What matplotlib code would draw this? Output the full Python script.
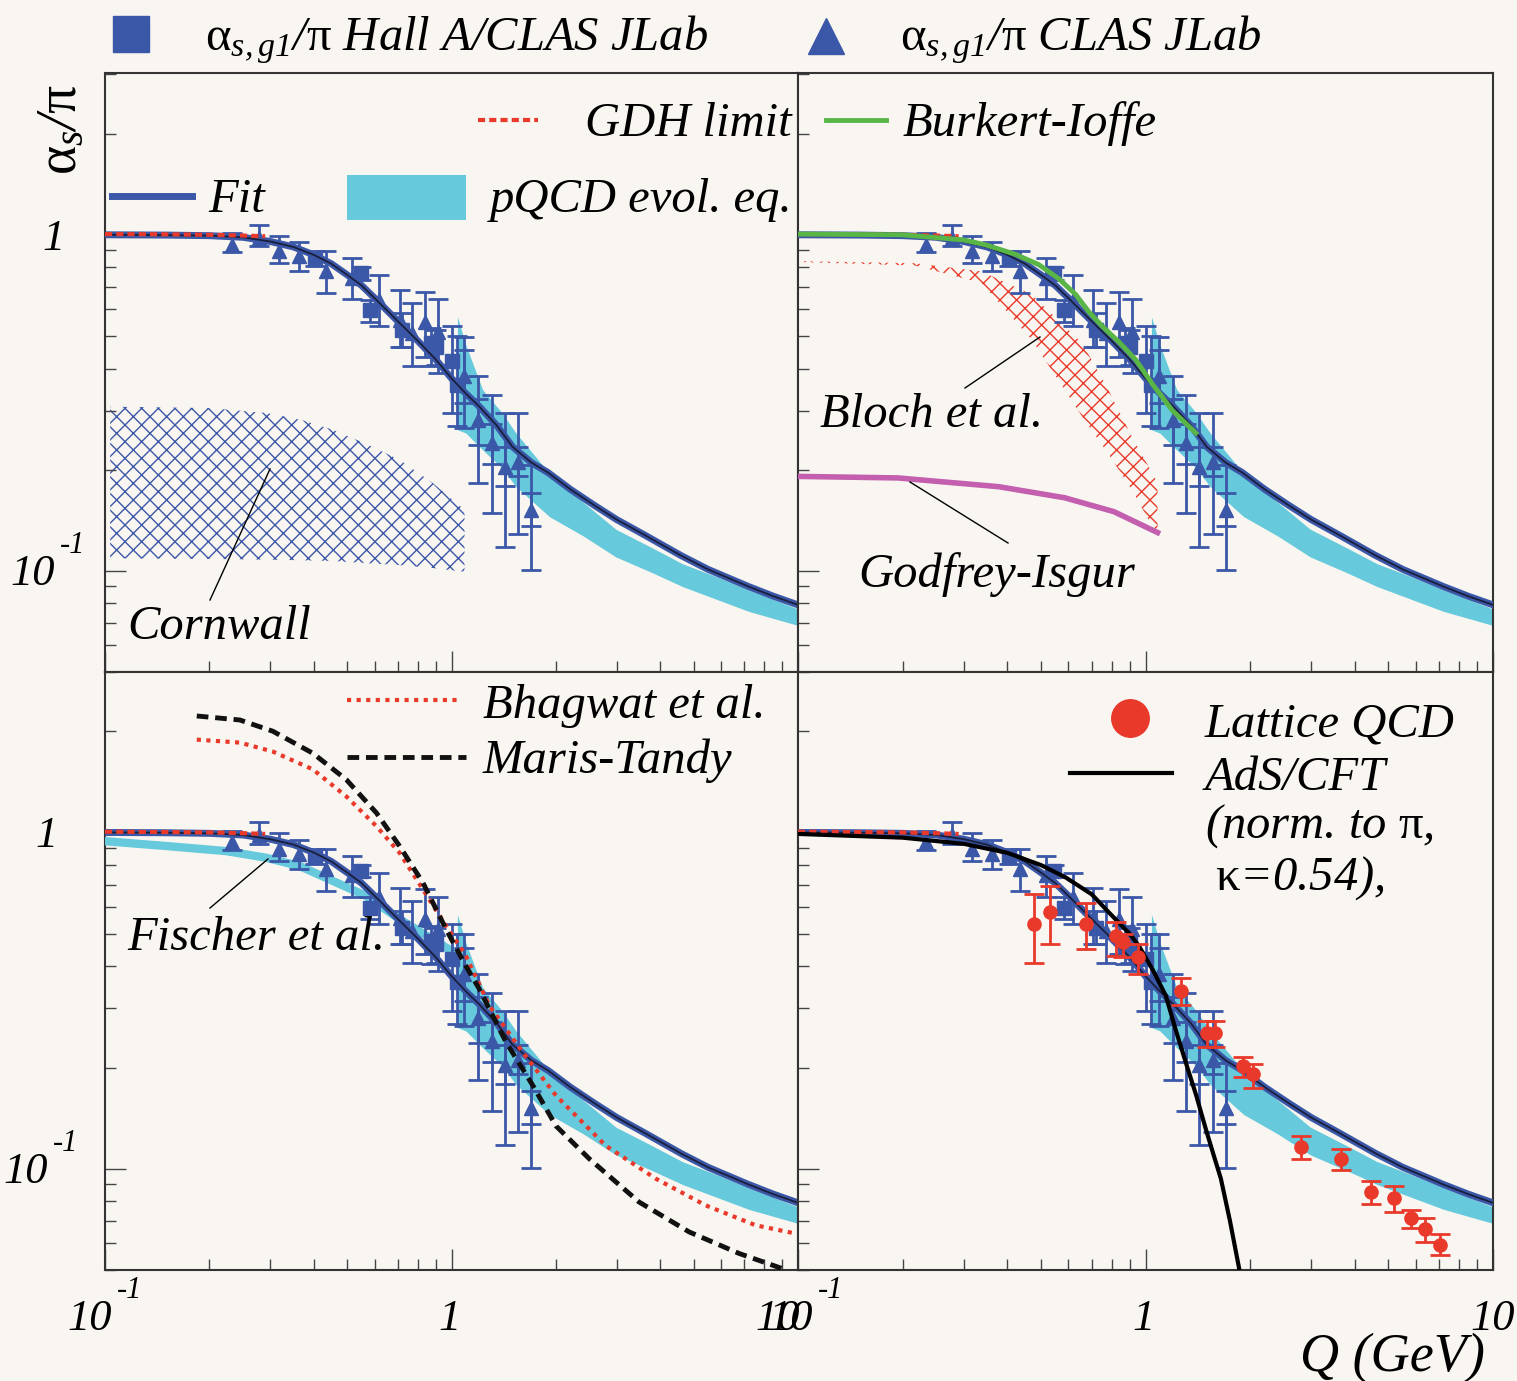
import matplotlib
matplotlib.use("Agg")
import matplotlib.pyplot as plt
import numpy as np
from matplotlib.ticker import FixedLocator, LogLocator, NullFormatter

plt.rcParams['font.family'] = ['Liberation Serif', 'DejaVu Serif']
plt.rcParams['mathtext.fontset'] = 'custom'
plt.rcParams['mathtext.rm'] = 'Liberation Serif:italic'
plt.rcParams['mathtext.it'] = 'Liberation Serif:italic'
plt.rcParams['mathtext.sf'] = 'Liberation Serif'
plt.rcParams['hatch.linewidth'] = 1.0

BG = '#f9f6f1'
BLUE = '#3b57a7'
NAVY = '#1a1f3c'
CYAN = '#66c9dc'
RED = '#e9392b'
GREEN = '#5ab547'
MAGENTA = '#c35fae'
W, H = 1517, 1381

# --- data ---
# CLAS JLab (triangles)
clas_q = [0.233, 0.278, 0.317, 0.362, 0.435, 0.516, 0.617, 0.708, 0.768, 0.841,
          0.913, 1.09, 1.196, 1.306, 1.427, 1.56, 1.70]
clas_val = [0.934, 0.98, 0.892, 0.862, 0.778, 0.745, 0.641, 0.558, 0.51, 0.552,
            0.515, 0.379, 0.281, 0.24, 0.204, 0.211, 0.152]
clas_hi = [1.012, 1.071, 0.993, 0.949, 0.892, 0.852, 0.760, 0.683, 0.626, 0.678,
           0.643, 0.498, 0.379, 0.334, 0.295, 0.295, 0.207]
clas_lo = [0.886, 0.923, 0.824, 0.778, 0.670, 0.643, 0.536, 0.465, 0.408, 0.434,
           0.387, 0.266, 0.183, 0.149, 0.118, 0.129, 0.1007]
# inner (stat.) bars of the last six CLAS points
clas_stat_hi = [0.453, 0.324, 0.274, 0.234, 0.234, 0.170]
clas_stat_lo = [0.315, 0.237, 0.208, 0.179, 0.191, 0.136]

# Hall A / CLAS (squares)
halla_q = [0.405, 0.547, 0.583, 0.72, 0.874, 0.90, 1.0, 1.035]
halla_val = [0.847, 0.769, 0.598, 0.521, 0.476, 0.465, 0.42, 0.358]
halla_hi = [0.892, 0.80, 0.641, 0.585, 0.527, 0.52, 0.536, 0.50]
halla_lo = [0.808, 0.735, 0.552, 0.465, 0.406, 0.41, 0.295, 0.27]

# Fit
fit_q = [0.1, 0.15, 0.2, 0.25, 0.3, 0.35, 0.4, 0.45, 0.5, 0.55, 0.6, 0.65, 0.7,
         0.8, 0.9, 1.0, 1.1, 1.2, 1.35, 1.5, 1.7, 1.9, 2.2, 2.6, 3.0, 3.6, 4.6,
         5.5, 7.2, 8.5, 10.0]
fit_val = [1.0, 0.998, 0.994, 0.983, 0.955, 0.92, 0.872, 0.82, 0.76, 0.707, 0.648,
           0.597, 0.553, 0.483, 0.426, 0.374, 0.337, 0.309, 0.271, 0.234, 0.21,
           0.196, 0.175, 0.156, 0.142, 0.128, 0.111, 0.101, 0.0898, 0.084, 0.0792]

# GDH limit
gdh_q = [0.1, 0.15, 0.2, 0.25, 0.29]
gdh_val = [1.005, 1.003, 1.0, 0.995, 0.99]

# pQCD evolution band
band_q = [1.04, 1.1, 1.23, 1.4, 1.535, 1.916, 2.4, 2.98, 3.8, 4.64, 6.0, 7.22, 10.0]
band_hi = [0.571, 0.47, 0.346, 0.295, 0.257, 0.195, 0.16, 0.133, 0.117, 0.105,
           0.0949, 0.0877, 0.077]
band_lo = [0.263, 0.257, 0.229, 0.202, 0.178, 0.145, 0.127, 0.110, 0.0987, 0.0898,
           0.0813, 0.0757, 0.0688]

# Cornwall band
corn_q = [0.1035, 0.2, 0.292, 0.37, 0.454, 0.56, 0.708, 0.88, 1.09]
corn_hi = [0.308, 0.305, 0.295, 0.281, 0.263, 0.24, 0.214, 0.183, 0.152]
corn_lo = [0.109, 0.1085, 0.108, 0.1075, 0.107, 0.1055, 0.104, 0.102, 0.0994]

# Burkert-Ioffe
bi_q = [0.1, 0.2, 0.3, 0.346, 0.422, 0.493, 0.563, 0.629, 0.687, 0.75, 0.838,
        0.937, 1.046, 1.195, 1.396]
bi_val = [1.005, 1.0, 0.965, 0.934, 0.875, 0.815, 0.74, 0.665, 0.59, 0.535,
          0.48, 0.425, 0.36, 0.30, 0.257]

# Bloch et al. band
bloch_q = [0.1, 0.217, 0.338, 0.471, 0.657, 0.777, 0.915, 1.083]
bloch_hi = [0.835, 0.823, 0.778, 0.663, 0.476, 0.35, 0.25, 0.183]
bloch_lo = [0.83, 0.81, 0.718, 0.487, 0.288, 0.225, 0.174, 0.127]

# Godfrey-Isgur
gi_q = [0.1, 0.194, 0.378, 0.585, 0.811, 1.083]
gi_val = [0.191, 0.189, 0.178, 0.165, 0.150, 0.13]

# Fischer et al.
fis_q = [0.1, 0.151, 0.224, 0.292, 0.365, 0.455, 0.568, 0.708, 0.883, 1.054, 1.1]
fis_val = [0.942, 0.911, 0.88, 0.841, 0.794, 0.717, 0.647, 0.552, 0.481, 0.43, 0.42]

# Maris-Tandy
mt_q = [0.184, 0.245, 0.305, 0.398, 0.497, 0.607, 0.708, 0.827, 0.965, 1.10,
        1.204, 1.287, 1.437, 1.716, 2.003, 2.5, 3.48, 4.85, 6.76, 9.0]
mt_val = [2.22, 2.16, 2.0, 1.72, 1.436, 1.144, 0.911, 0.709, 0.515, 0.401, 0.342,
          0.298, 0.238, 0.177, 0.134, 0.107, 0.0796, 0.0649, 0.056, 0.0505]

# Bhagwat et al.
bh_q = [0.184, 0.245, 0.305, 0.398, 0.497, 0.607, 0.708, 0.827, 0.965, 1.10,
        1.287, 1.605, 2.003, 2.79, 3.89, 5.42, 7.55, 9.9]
bh_val = [1.888, 1.85, 1.74, 1.54, 1.28, 1.044, 0.87, 0.677, 0.527, 0.43, 0.305,
          0.222, 0.165, 0.117, 0.0934, 0.0778, 0.0679, 0.0641]

# AdS/CFT
ads_q = [0.1, 0.2, 0.3, 0.4, 0.5, 0.589, 0.7, 0.785, 0.9, 0.957, 1.05, 1.144,
         1.22, 1.306, 1.4, 1.492, 1.57, 1.648, 1.75, 1.86]
ads_val = [0.99, 0.965, 0.925, 0.87, 0.80, 0.735, 0.655, 0.578, 0.50, 0.46, 0.39,
           0.327, 0.26, 0.207, 0.165, 0.131, 0.11, 0.0934, 0.07, 0.0505]

# Lattice QCD
lat_q = [0.479, 0.532, 0.675, 0.824, 0.861, 0.953, 1.264, 1.507, 1.59, 1.904,
         2.034, 2.80, 3.66, 4.47, 5.18, 5.82, 6.37, 7.06]
lat_val = [0.533, 0.582, 0.536, 0.492, 0.471, 0.425, 0.338, 0.254, 0.254, 0.2026,
           0.191, 0.116, 0.107, 0.0853, 0.0818, 0.0714, 0.066, 0.0595]
lat_hi = [0.655, 0.693, 0.618, 0.540, 0.498, 0.465, 0.369, 0.275, 0.275, 0.215,
          0.2045, 0.125, 0.1145, 0.0917, 0.0889, 0.0756, 0.0714, 0.0638]
lat_lo = [0.408, 0.465, 0.450, 0.430, 0.426, 0.379, 0.307, 0.230, 0.230, 0.187,
          0.174, 0.107, 0.0989, 0.0785, 0.0745, 0.0667, 0.0607, 0.0555]

FS = 35
TFS = 32
GDH_LS = (0, (1.7, 1.0))
MT_LS = (0, (2.4, 1.4))


def px_rect(x0, y0, x1, y1):
    return [x0 / W, 1 - y1 / H, (x1 - x0) / W, (y1 - y0) / H]


def yerr(val, lo, hi):
    val = np.asarray(val)
    return [val - np.asarray(lo), np.asarray(hi) - val]


def setup(ax, ytop):
    ax.set_xscale('log')
    ax.set_yscale('log')
    ax.set_xlim(0.1, 10)
    ax.set_ylim(0.05, ytop)
    ax.set_facecolor(BG)
    ax.xaxis.set_major_locator(FixedLocator([0.1, 1, 10]))
    ax.yaxis.set_major_locator(FixedLocator([0.1, 1]))
    ax.xaxis.set_minor_locator(LogLocator(base=10, subs=np.arange(2, 10)))
    ax.yaxis.set_minor_locator(LogLocator(base=10, subs=np.arange(2, 10)))
    ax.xaxis.set_minor_formatter(NullFormatter())
    ax.yaxis.set_minor_formatter(NullFormatter())
    ax.tick_params(which='both', direction='in', labelleft=False,
                   labelbottom=False, color='#444444', width=1)
    ax.tick_params(which='major', length=15)
    ax.tick_params(which='minor', length=8)
    for s in ax.spines.values():
        s.set_color('#333333')
        s.set_linewidth(1.5)


def draw_common(ax):
    ax.fill_between(band_q, band_lo, band_hi, color=CYAN, lw=0, zorder=2)
    ax.errorbar(clas_q, clas_val, yerr=yerr(clas_val, clas_lo, clas_hi),
                fmt='^', ms=10, color=BLUE, elinewidth=2, capsize=7,
                capthick=2, zorder=4)
    ax.errorbar(clas_q[-6:], clas_val[-6:],
                yerr=yerr(clas_val[-6:], clas_stat_lo, clas_stat_hi),
                fmt='none', ecolor=BLUE, elinewidth=2, capsize=7,
                capthick=2, zorder=4)
    ax.errorbar(halla_q, halla_val, yerr=yerr(halla_val, halla_lo, halla_hi),
                fmt='s', ms=9.5, color=BLUE, elinewidth=2, capsize=7,
                capthick=2, zorder=4)
    ax.plot(fit_q, fit_val, color=BLUE, lw=5, zorder=5)
    ax.plot(fit_q, fit_val, color=NAVY, lw=1.3, zorder=6)
    ax.plot(gdh_q, gdh_val, color=RED, lw=3, ls=GDH_LS, zorder=7)


def label(ax, xy, coords, s, dx, dy, ha):
    ax.annotate(s, xy=xy, xycoords=coords, xytext=(dx, dy),
                textcoords='offset pixels', ha=ha, va='baseline',
                fontsize=TFS, style='italic')


def pow_label(ax, xy, coords, dx, dy):
    # "10" with a raised "-1", right edge of "10" at dx
    label(ax, xy, coords, '10', dx, dy, 'right')
    ax.annotate('-1', xy=xy, xycoords=coords, xytext=(dx + 5, dy + 32),
                textcoords='offset pixels', ha='left', va='baseline',
                fontsize=22, style='italic')


def ylabels(ax, d1, d10):
    yc = ('axes fraction', 'data')
    label(ax, (0, 1), yc, '1', d1, -15, 'right')
    pow_label(ax, (0, 0.1), yc, d10, -14)


def xlabels(ax, d_lo, d_hi):
    xc = ('data', 'axes fraction')
    pow_label(ax, (0.1, 0), xc, d_lo, -60)
    label(ax, (1, 0), xc, '1', -2, -60, 'center')
    label(ax, (10, 0), xc, '10', d_hi, -60, 'center')


fig = plt.figure(figsize=(W / 100, H / 100), dpi=100, facecolor=BG)
tl = fig.add_axes(px_rect(105, 73, 798, 672))
tr = fig.add_axes(px_rect(798, 73, 1493, 672))
bl = fig.add_axes(px_rect(105, 672, 798, 1270))
br = fig.add_axes(px_rect(798, 672, 1493, 1270))
for ax, top in [(tl, 3.03), (tr, 3.03), (bl, 3.0), (br, 3.0)]:
    setup(ax, top)
    draw_common(ax)

# top left: Cornwall
tl.fill_between(corn_q, corn_lo, corn_hi, facecolor='none', edgecolor=BLUE,
                hatch='xx', lw=0, zorder=1)

# top right: Burkert-Ioffe, Bloch, Godfrey-Isgur
tr.fill_between(bloch_q, bloch_lo, bloch_hi, facecolor='none', edgecolor=RED,
                hatch='xx', lw=0, zorder=1)
tr.plot(gi_q, gi_val, color=MAGENTA, lw=4, zorder=3)
tr.plot(bi_q, bi_val, color=GREEN, lw=3.5, zorder=8)

# bottom left: Fischer, Bhagwat, Maris-Tandy
bl.plot(fis_q, fis_val, color=CYAN, lw=6, zorder=3)
bl.plot(bh_q, bh_val, color=RED, lw=3, ls=(0, (1, 1.3)), zorder=8)
bl.plot(mt_q, mt_val, color='#111111', lw=3.5, ls=MT_LS, zorder=8)

# bottom right: Lattice QCD, AdS/CFT
br.plot(ads_q, ads_val, color='black', lw=3, zorder=8)
br.errorbar(lat_q, lat_val, yerr=yerr(lat_val, lat_lo, lat_hi), fmt='o',
            ms=9.5, color=RED, elinewidth=2, capsize=7, capthick=2, zorder=9)

ylabels(tl, -40, -50)
ylabels(bl, -47, -57)
xlabels(bl, 7, -20)
xlabels(br, 15, 0)

# overlay in pixel coordinates for legends and annotations
ov = fig.add_axes([0, 0, 1, 1])
ov.set_xlim(0, W)
ov.set_ylim(H, 0)
ov.axis('off')
ov.patch.set_visible(False)
tx = dict(fontsize=FS, style='italic', va='baseline')

ov.plot([131], [34], marker='s', ms=26, color=BLUE)
ov.text(205, 50, r'$\mathsf{\alpha}_{s,g1}/\mathsf{\pi}$ Hall A/CLAS JLab', **tx)
ov.plot([826], [36], marker='^', ms=26, color=BLUE)
ov.text(900, 50, r'$\mathsf{\alpha}_{s,g1}/\mathsf{\pi}$ CLAS JLab', **tx)

ov.text(62, 130, r'$\mathsf{\alpha}_s/\mathsf{\pi}$', fontsize=40, rotation=90,
        ha='center', va='center')

ov.plot([478, 538], [120, 120], color=RED, lw=3, ls=GDH_LS)
ov.text(585, 136, 'GDH limit', **tx)
ov.plot([112, 192], [196, 196], color=BLUE, lw=5)
ov.text(208, 212, 'Fit', **tx)
ov.add_patch(plt.Rectangle((347, 175), 119, 45, color=CYAN, lw=0))
ov.text(490, 212, 'pQCD evol. eq.', **tx)
ov.plot([826, 886], [120, 120], color=GREEN, lw=3.5)
ov.text(903, 136, 'Burkert-Ioffe', **tx)

ov.plot([210, 270], [600, 469], color='black', lw=1)
ov.text(127, 639, 'Cornwall', **tx)
ov.plot([965, 1040], [388, 337], color='black', lw=1)
ov.text(820, 427, 'Bloch et al.', **tx)
ov.plot([910, 1008], [482, 543], color='black', lw=1)
ov.text(858, 587, 'Godfrey-Isgur', **tx)

ov.plot([347, 462], [700, 700], color=RED, lw=3, ls=(0, (1, 1.3)))
ov.text(483, 718, 'Bhagwat et al.', **tx)
ov.plot([347, 466], [757, 757], color='#111111', lw=3.5, ls=MT_LS)
ov.text(483, 773, 'Maris-Tandy', **tx)
ov.plot([210, 268], [908, 859], color='black', lw=1)
ov.text(127, 950, 'Fischer et al.', **tx)

ov.plot([1130], [718], marker='o', ms=27, color=RED)
ov.text(1205, 736, 'Lattice QCD', **tx)
ov.plot([1070, 1172], [773, 773], color='black', lw=3)
ov.text(1205, 790, 'AdS/CFT', **tx)
ov.text(1205, 838, r'(norm. to $\mathsf{\pi}$,', **tx)
ov.text(1215, 890, r'$\mathsf{\kappa}$=0.54),', **tx)

ov.text(1300, 1371, 'Q (GeV)', fontsize=39, style='italic', va='baseline')

fig.savefig('out.png', dpi=100, facecolor=BG)
